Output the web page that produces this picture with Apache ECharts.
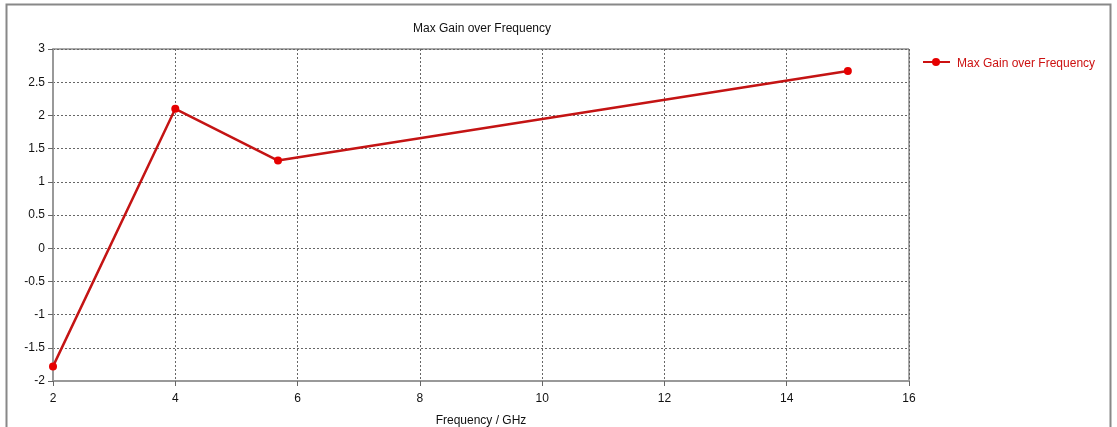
<!DOCTYPE html>
<html><head><meta charset="utf-8">
<script src="https://cdn.jsdelivr.net/npm/echarts@6/dist/echarts.min.js"></script>
<style>html,body{margin:0;padding:0;background:#fff}#c{width:1117px;height:427px}</style>
</head><body><div id="c"></div>
<script>
const seriesName = 'Max Gain over Frequency';
const freqGHz = [2, 4, 5.68, 15];
const gainValues = [-1.78, 2.1, 1.32, 2.67];
const xTicks = [2, 4, 6, 8, 10, 12, 14, 16];
const yTicks = [-2, -1.5, -1, -0.5, 0, 0.5, 1, 1.5, 2, 2.5, 3];

const font = 'Liberation Sans, Arial, sans-serif';
const chart = echarts.init(document.getElementById('c'), null, {renderer: 'canvas'});
chart.setOption({
  animation: false,
  backgroundColor: '#fff',
  title: {text: 'Max Gain over Frequency', left: 477, top: 18, textAlign: 'center',
    textStyle: {fontFamily: font, fontSize: 12, fontWeight: 'normal', color: '#111'}},
  legend: {left: 916, top: 53, itemWidth: 30, itemHeight: 10,
    itemStyle: {opacity: 0}, lineStyle: {opacity: 0},
    textStyle: {fontFamily: font, fontSize: 12, color: '#cc1111'},
    data: [{name: seriesName}]},
  grid: {left: 53, top: 49, right: 208, bottom: 46, show: true, borderColor: '#555', borderWidth: 1,
    containLabel: false, outerBoundsMode: 'none'},
  graphic: [
    {type: 'rect', shape: {x: 6.5, y: 4.5, width: 1104, height: 440}, style: {fill: 'none', stroke: '#888', lineWidth: 2}, silent: true},
    {type: 'line', shape: {x1: 923, y1: 62, x2: 950, y2: 62}, style: {stroke: '#cc1111', lineWidth: 2}},
    {type: 'circle', shape: {cx: 936, cy: 62, r: 4}, style: {fill: '#e60000'}}
  ],
  xAxis: {type: 'value', min: xTicks[0], max: xTicks[xTicks.length - 1], interval: 2,
    name: 'Frequency / GHz', nameLocation: 'middle', nameGap: 34,
    nameTextStyle: {fontFamily: font, fontSize: 12, color: '#111'},
    axisLine: {show: true, onZero: false, lineStyle: {color: '#999', width: 2}},
    axisTick: {show: true, length: 5, lineStyle: {color: '#666'}},
    axisLabel: {fontFamily: font, fontSize: 12, color: '#111', margin: 12},
    splitLine: {show: true, lineStyle: {color: '#666', type: [2, 2], width: 1}}},
  yAxis: {type: 'value', min: yTicks[0], max: yTicks[yTicks.length - 1], interval: 0.5,
    axisLine: {show: true, onZero: false, lineStyle: {color: '#999', width: 2}},
    axisTick: {show: true, length: 5, lineStyle: {color: '#666'}},
    axisLabel: {fontFamily: font, fontSize: 12, color: '#111', margin: 8},
    splitLine: {show: true, lineStyle: {color: '#666', type: [2, 2], width: 1}}},
  series: [{
    name: seriesName, type: 'line',
    data: freqGHz.map((f, i) => [f, gainValues[i]]),
    symbol: 'circle', symbolSize: 8, showSymbol: true,
    lineStyle: {color: '#c41414', width: 2.5},
    itemStyle: {color: '#e60000'}
  }]
});
</script></body></html>
